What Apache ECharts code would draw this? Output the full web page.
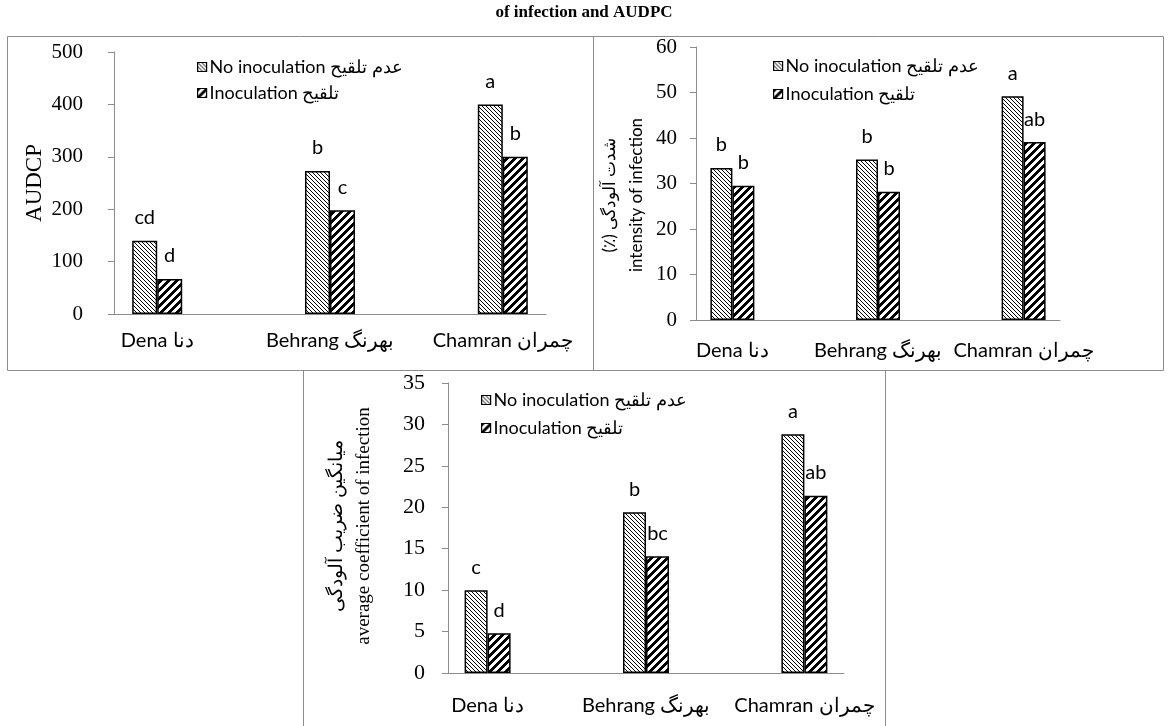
<!DOCTYPE html>
<html><head><meta charset="utf-8">
<script src="https://cdn.jsdelivr.net/npm/echarts@6/dist/echarts.min.js"></script>
<style>html,body{margin:0;padding:0;background:#fff}#c{width:1169px;height:726px}</style>
</head><body><div id="c"></div>
<script>
// ---------------- data ----------------
const categoriesEn = ['Dena', 'Behrang', 'Chamran'];
const categoriesFa = ['دنا', 'بهرنگ', 'چمران'];
const seriesNames = ['No inoculation عدم تلقیح', 'Inoculation تلقیح'];

const audpcNo = [140, 273, 400];
const audpcIno = [67, 198, 300];
const audpcLettersNo = ['cd', 'b', 'a'];
const audpcLettersIno = ['d', 'c', 'b'];
const audpcTicks = [0, 100, 200, 300, 400, 500];

const intensityNo = [33.4, 35.3, 49.2];
const intensityIno = [29.5, 28.2, 39.1];
const intensityLettersNo = ['b', 'b', 'a'];
const intensityLettersIno = ['b', 'b', 'ab'];
const intensityTicks = [0, 10, 20, 30, 40, 50, 60];

const coefNo = [10.0, 19.4, 28.8];
const coefIno = [4.8, 14.1, 21.4];
const coefLettersNo = ['c', 'b', 'a'];
const coefLettersIno = ['d', 'bc', 'ab'];
const coefTicks = [0, 5, 10, 15, 20, 25, 30, 35];

const titleText = 'of infection and AUDPC';
const yTitle1 = 'AUDCP';
const yTitle2 = ['(٪) شدت آلودگی', 'intensity of infection'];
const yTitle3 = ['میانگین ضریب آلودگی', 'average coefficient of infection'];

// ---------------- styles / layout ----------------
function mkPattern(kind) {
  const c = document.createElement('canvas');
  const g = c.getContext('2d');
  if (kind === 'light') {
    c.width = c.height = 4;
    g.fillStyle = '#fff'; g.fillRect(0, 0, 4, 4);
    g.fillStyle = '#000';
    for (let i = 0; i < 4; i++) g.fillRect(i, i, 1, 1);
  } else {
    c.width = c.height = 8;
    g.fillStyle = '#fff'; g.fillRect(0, 0, 8, 8);
    g.fillStyle = '#000';
    for (let x = 0; x < 8; x++) for (let k = 0; k < 4; k++) g.fillRect(x, (7 - x + k) % 8, 1, 1);
  }
  return { image: c, repeat: 'repeat' };
}
const patNo = mkPattern('light');
const patIno = mkPattern('wide');
const axisGrey = '#8c8c8c';

const panels = [
  { no: audpcNo, ino: audpcIno, lNo: audpcLettersNo, lIno: audpcLettersIno, ticks: audpcTicks,
    ax0: 114, ax1: 546, yTop: 52, y0: 314, barW: 25, tickFont: 21, tickMargin: 31, catMargin: 17,
    legend: { left: 192, top: 53, gap: 8 } },
  { no: intensityNo, ino: intensityIno, lNo: intensityLettersNo, lIno: intensityLettersIno, ticks: intensityTicks,
    ax0: 696, ax1: 1060, yTop: 47, y0: 320, barW: 22, tickFont: 21, tickMargin: 19, catMargin: 21,
    legend: { left: 768, top: 52, gap: 10 } },
  { no: coefNo, ino: coefIno, lNo: coefLettersNo, lIno: coefLettersIno, ticks: coefTicks,
    ax0: 448, ax1: 844, yTop: 383, y0: 673, barW: 23, tickFont: 22, tickMargin: 23, catMargin: 23,
    legend: { left: 476, top: 386, gap: 10 } }
];

const grid = [], xAxis = [], yAxis = [], series = [], legend = [];
panels.forEach((p, i) => {
  const L = p.ax1 - p.ax0;
  const tmin = p.ticks[0], tmax = p.ticks[p.ticks.length - 1], tint = p.ticks[1] - p.ticks[0];
  grid.push({ left: p.ax0 - 0.1 * L, width: 1.2 * L, top: p.yTop, height: p.y0 - p.yTop });
  grid.push({ left: p.ax0, width: L, top: p.yTop, height: p.y0 - p.yTop });
  const gA = 2 * i, gB = 2 * i + 1;
  xAxis.push({ type: 'category', gridIndex: gA,
    data: categoriesEn.map((c, k) => c + ' ' + categoriesFa[k]),
    axisLine: { show: false }, axisTick: { show: false },
    axisLabel: { interval: 0, hideOverlap: false, margin: p.catMargin, fontFamily: 'Lato', fontSize: 20, color: '#000' } });
  xAxis.push({ type: 'value', gridIndex: gB, min: 0, max: 1,
    axisLine: { show: true, lineStyle: { color: axisGrey, width: 1 } },
    axisTick: { show: false }, axisLabel: { show: false }, splitLine: { show: false } });
  yAxis.push({ type: 'value', gridIndex: gA, min: tmin, max: tmax, interval: tint, show: false, splitLine: { show: false } });
  yAxis.push({ type: 'value', gridIndex: gB, min: tmin, max: tmax, interval: tint,
    axisLine: { show: true, lineStyle: { color: axisGrey, width: 1 } },
    axisTick: { show: true, length: 6, lineStyle: { color: axisGrey } },
    axisLabel: { margin: p.tickMargin, fontFamily: 'Liberation Serif', fontSize: p.tickFont, color: '#000' },
    splitLine: { show: false } });
  const lbl = (arr) => ({ show: true, position: 'top', distance: 13, fontFamily: 'Lato', fontSize: 20, color: '#000',
    formatter: (q) => arr[q.dataIndex] });
  series.push({ type: 'bar', name: seriesNames[0], xAxisIndex: gA, yAxisIndex: gA, data: p.no,
    barWidth: p.barW, barGap: '0%',
    itemStyle: { color: patNo, borderColor: '#000', borderWidth: 1.5 }, label: lbl(p.lNo) });
  series.push({ type: 'bar', name: seriesNames[1], xAxisIndex: gA, yAxisIndex: gA, data: p.ino,
    barWidth: p.barW, barGap: '0%',
    itemStyle: { color: patIno, borderColor: '#000', borderWidth: 1.5 }, label: lbl(p.lIno) });
  legend.push({ data: seriesNames, orient: 'vertical', left: p.legend.left, top: p.legend.top,
    itemWidth: 9, itemHeight: 9, itemGap: p.legend.gap, icon: 'rect', selectedMode: false,
    itemStyle: { borderColor: '#000', borderWidth: 1.2 },
    textStyle: { fontFamily: 'Lato', fontSize: 18, lineHeight: 18, color: '#000', padding: [0, 0, 0, -2] } });
});

const graphic = [
  { type: 'rect', shape: { x: 7.5, y: 36.5, width: 586, height: 334 }, style: { fill: 'none', stroke: axisGrey, lineWidth: 1 }, silent: true },
  { type: 'rect', shape: { x: 593.5, y: 36.5, width: 570, height: 334 }, style: { fill: 'none', stroke: axisGrey, lineWidth: 1 }, silent: true },
  { type: 'rect', shape: { x: 303.5, y: 370.5, width: 582, height: 400 }, style: { fill: 'none', stroke: axisGrey, lineWidth: 1 }, silent: true },
  { type: 'text', x: 584, y: 13, style: { text: titleText, font: 'bold 17px "Liberation Serif"', fill: '#000', textAlign: 'center', textVerticalAlign: 'middle' } },
  { type: 'text', x: 35, y: 183, rotation: Math.PI / 2, style: { text: yTitle1, font: '23px "Liberation Serif"', fill: '#000', textAlign: 'center', textVerticalAlign: 'middle' } },
  { type: 'text', x: 623, y: 195, rotation: Math.PI / 2, style: { text: yTitle2.join('\n'), font: '17px Lato', lineHeight: 27, fill: '#000', textAlign: 'center', textVerticalAlign: 'middle' } },
  { type: 'text', x: 351, y: 526, rotation: Math.PI / 2, style: { text: yTitle3.join('\n'), font: '19px "Liberation Serif"', lineHeight: 27, fill: '#000', textAlign: 'center', textVerticalAlign: 'middle' } }
];

const chart = echarts.init(document.getElementById('c'));
chart.setOption({ animation: false, backgroundColor: '#fff', grid, xAxis, yAxis, series, legend, graphic });
</script>
</body></html>
